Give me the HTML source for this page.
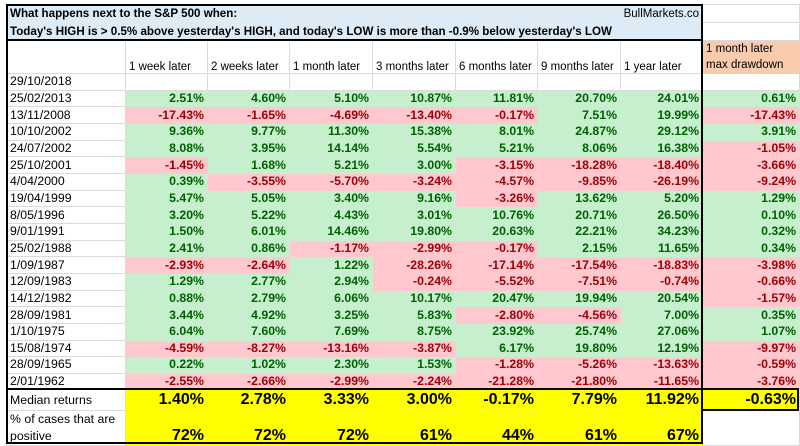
<!DOCTYPE html>
<html><head><meta charset="utf-8"><style>
body{margin:0;width:800px;height:446px;overflow:hidden;background:#fff;font-family:"Liberation Sans",Arial,sans-serif;position:relative}
table{position:absolute;left:6px;top:4px;border-collapse:collapse;table-layout:fixed;width:793px}
td{padding:0 3px;border:1px solid #dadada;font-size:12.3px;white-space:nowrap;overflow:hidden;color:#000}
tr.d td{height:15.67px;line-height:15px}
tr.d td.n{text-align:right;font-weight:bold}
.h td{font-size:11.5px}
.g{background:#c6efce;color:#006100!important;border-color:#c6efce!important}
.r{background:#ffc7ce;color:#9c0006!important;border-color:#ffc7ce!important}
.t{background:#ddebf7;font-weight:bold;font-size:11.6px;border-color:#ddebf7;overflow:visible}
.y{background:#ffff00;border-color:#ffff00;text-align:right;font-weight:bold;font-size:16px}
.ln{position:absolute;background:#000}
</style></head><body>
<table>
<colgroup><col style="width:119px"><col style="width:82px"><col style="width:82px"><col style="width:83px"><col style="width:83px"><col style="width:82px"><col style="width:83px"><col style="width:82px"><col style="width:97px"></colgroup>
<tr style="height:18px"><td class="t" colspan="6">What happens next to the S&amp;P 500 when:</td><td class="t" colspan="2" style="font-weight:normal;text-align:right;font-size:11.5px">BullMarkets.co</td><td></td></tr>
<tr style="height:18px"><td class="t" colspan="8">Today's HIGH is &gt; 0.5% above yesterday's HIGH, and today's LOW is more than -0.9% below yesterday's LOW</td><td></td></tr>
<tr class="h" style="height:32px;vertical-align:bottom"><td></td><td>1 week later</td><td>2 weeks later</td><td>1 month later</td><td>3 months later</td><td>6 months later</td><td>9 months later</td><td>1 year later</td><td style="background:#f8cbad;border-color:#f8cbad;white-space:normal;line-height:16px;vertical-align:top">1 month later max drawdown</td></tr>
<tr class="d"><td>29/10/2018</td><td></td><td></td><td></td><td></td><td></td><td></td><td></td><td></td></tr>
<tr class="d"><td>25/02/2013</td><td class="n g">2.51%</td><td class="n g">4.60%</td><td class="n g">5.10%</td><td class="n g">10.87%</td><td class="n g">11.81%</td><td class="n g">20.70%</td><td class="n g">24.01%</td><td class="n g">0.61%</td></tr>
<tr class="d"><td>13/11/2008</td><td class="n r">-17.43%</td><td class="n r">-1.65%</td><td class="n r">-4.69%</td><td class="n r">-13.40%</td><td class="n r">-0.17%</td><td class="n g">7.51%</td><td class="n g">19.99%</td><td class="n r">-17.43%</td></tr>
<tr class="d"><td>10/10/2002</td><td class="n g">9.36%</td><td class="n g">9.77%</td><td class="n g">11.30%</td><td class="n g">15.38%</td><td class="n g">8.01%</td><td class="n g">24.87%</td><td class="n g">29.12%</td><td class="n g">3.91%</td></tr>
<tr class="d"><td>24/07/2002</td><td class="n g">8.08%</td><td class="n g">3.95%</td><td class="n g">14.14%</td><td class="n g">5.54%</td><td class="n g">5.21%</td><td class="n g">8.06%</td><td class="n g">16.38%</td><td class="n r">-1.05%</td></tr>
<tr class="d"><td>25/10/2001</td><td class="n r">-1.45%</td><td class="n g">1.68%</td><td class="n g">5.21%</td><td class="n g">3.00%</td><td class="n r">-3.15%</td><td class="n r">-18.28%</td><td class="n r">-18.40%</td><td class="n r">-3.66%</td></tr>
<tr class="d"><td>4/04/2000</td><td class="n g">0.39%</td><td class="n r">-3.55%</td><td class="n r">-5.70%</td><td class="n r">-3.24%</td><td class="n r">-4.57%</td><td class="n r">-9.85%</td><td class="n r">-26.19%</td><td class="n r">-9.24%</td></tr>
<tr class="d"><td>19/04/1999</td><td class="n g">5.47%</td><td class="n g">5.05%</td><td class="n g">3.40%</td><td class="n g">9.16%</td><td class="n r">-3.26%</td><td class="n g">13.62%</td><td class="n g">5.20%</td><td class="n g">1.29%</td></tr>
<tr class="d"><td>8/05/1996</td><td class="n g">3.20%</td><td class="n g">5.22%</td><td class="n g">4.43%</td><td class="n g">3.01%</td><td class="n g">10.76%</td><td class="n g">20.71%</td><td class="n g">26.50%</td><td class="n g">0.10%</td></tr>
<tr class="d"><td>9/01/1991</td><td class="n g">1.50%</td><td class="n g">6.01%</td><td class="n g">14.46%</td><td class="n g">19.80%</td><td class="n g">20.63%</td><td class="n g">22.21%</td><td class="n g">34.23%</td><td class="n g">0.32%</td></tr>
<tr class="d"><td>25/02/1988</td><td class="n g">2.41%</td><td class="n g">0.86%</td><td class="n r">-1.17%</td><td class="n r">-2.99%</td><td class="n r">-0.17%</td><td class="n g">2.15%</td><td class="n g">11.65%</td><td class="n g">0.34%</td></tr>
<tr class="d"><td>1/09/1987</td><td class="n r">-2.93%</td><td class="n r">-2.64%</td><td class="n g">1.22%</td><td class="n r">-28.26%</td><td class="n r">-17.14%</td><td class="n r">-17.54%</td><td class="n r">-18.83%</td><td class="n r">-3.98%</td></tr>
<tr class="d"><td>12/09/1983</td><td class="n g">1.29%</td><td class="n g">2.77%</td><td class="n g">2.94%</td><td class="n r">-0.24%</td><td class="n r">-5.52%</td><td class="n r">-7.51%</td><td class="n r">-0.74%</td><td class="n r">-0.66%</td></tr>
<tr class="d"><td>14/12/1982</td><td class="n g">0.88%</td><td class="n g">2.79%</td><td class="n g">6.06%</td><td class="n g">10.17%</td><td class="n g">20.47%</td><td class="n g">19.94%</td><td class="n g">20.54%</td><td class="n r">-1.57%</td></tr>
<tr class="d"><td>28/09/1981</td><td class="n g">3.44%</td><td class="n g">4.92%</td><td class="n g">3.25%</td><td class="n g">5.83%</td><td class="n r">-2.80%</td><td class="n r">-4.56%</td><td class="n g">7.00%</td><td class="n g">0.35%</td></tr>
<tr class="d"><td>1/10/1975</td><td class="n g">6.04%</td><td class="n g">7.60%</td><td class="n g">7.69%</td><td class="n g">8.75%</td><td class="n g">23.92%</td><td class="n g">25.74%</td><td class="n g">27.06%</td><td class="n g">1.07%</td></tr>
<tr class="d"><td>15/08/1974</td><td class="n r">-4.59%</td><td class="n r">-8.27%</td><td class="n r">-13.16%</td><td class="n r">-3.87%</td><td class="n g">6.17%</td><td class="n g">19.80%</td><td class="n g">12.19%</td><td class="n r">-9.97%</td></tr>
<tr class="d"><td>28/09/1965</td><td class="n g">0.22%</td><td class="n g">1.02%</td><td class="n g">2.30%</td><td class="n g">1.53%</td><td class="n r">-1.28%</td><td class="n r">-5.26%</td><td class="n r">-13.63%</td><td class="n r">-0.59%</td></tr>
<tr class="d"><td>2/01/1962</td><td class="n r">-2.55%</td><td class="n r">-2.66%</td><td class="n r">-2.99%</td><td class="n r">-2.24%</td><td class="n r">-21.28%</td><td class="n r">-21.80%</td><td class="n r">-11.65%</td><td class="n r">-3.76%</td></tr>
<tr style="height:21px"><td>Median returns</td><td class="y">1.40%</td><td class="y">2.78%</td><td class="y">3.33%</td><td class="y">3.00%</td><td class="y">-0.17%</td><td class="y">7.79%</td><td class="y">11.92%</td><td class="y">-0.63%</td></tr>
<tr style="height:33px;vertical-align:bottom"><td style="white-space:normal;line-height:17px">% of cases that are positive</td><td class="y">72%</td><td class="y">72%</td><td class="y">72%</td><td class="y">61%</td><td class="y">44%</td><td class="y">61%</td><td class="y">67%</td><td></td></tr>
</table>
<div class="ln" style="left:6px;top:4px;width:697px;height:2px"></div>
<div class="ln" style="left:6px;top:39px;width:697px;height:2px"></div>
<div class="ln" style="left:6px;top:4px;width:2px;height:440px"></div>
<div class="ln" style="left:701px;top:4px;width:2px;height:440px"></div>
<div class="ln" style="left:6px;top:388px;width:697px;height:2px"></div>
<div class="ln" style="left:6px;top:442px;width:697px;height:2px"></div>
<div class="ln" style="left:701px;top:409px;width:97px;height:2px"></div>
<div class="ln" style="left:797px;top:388px;width:2px;height:23px"></div>
<div class="ln" style="left:701px;top:388px;width:97px;height:2px"></div>
</body></html>
